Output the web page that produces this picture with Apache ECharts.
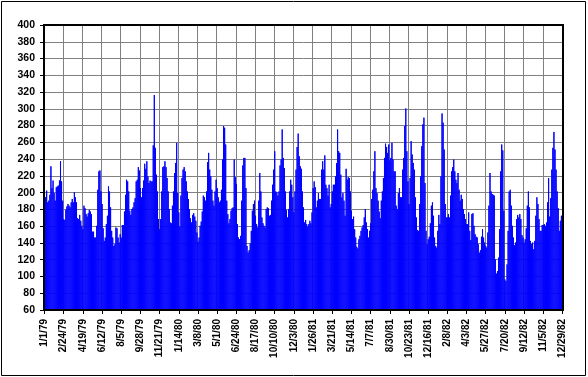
<!DOCTYPE html>
<html><head><meta charset="utf-8">
<script src="https://cdn.jsdelivr.net/npm/echarts@6/dist/echarts.min.js"></script>
<style>html,body{margin:0;padding:0;background:#fff}#c{width:588px;height:377px}</style>
</head><body><div id="c"></div>
<script>
// x axis tick labels (every 54 days)
const tickLabels = ['1/1/79','2/24/79','4/19/79','6/12/79','8/5/79','9/28/79','11/21/79','1/14/80','3/8/80','5/1/80','6/24/80','8/17/80','10/10/80','12/3/80','1/26/81','3/21/81','5/14/81','7/7/81','8/30/81','10/23/81','12/16/81','2/8/82','4/3/82','5/27/82','7/20/82','9/12/82','11/5/82','12/29/82'];
const yTicks = {min: 60, max: 400, step: 20};
// values, one per 3-day step starting 1/1/79
const values1979 = [202,195,203,189,191,198,232,206,215,200,
191,207,208,209,215,238,214,191,169,168,
180,184,187,185,183,189,193,189,201,195,
189,170,169,174,167,161,157,185,182,175,
172,176,180,178,175,154,154,147,147,161,
204,226,227,202,187,158,143,147,163,173,
208,202,183,155,147,137,139,159,158,147,
141,151,147,162,162,178,198,216,214,202,
179,174,181,183,189,194,214,216,231,227,
206,195,206,215,235,229,238,220,212,215,
214,214,257,317,254,222,202,169,157,169,
202,231,232,238,231,218,202,181,165,164,185,202];
const values1980 = [224,236,260,200,177,160,197,218,
228,231,226,214,202,193,181,170,165,174,
176,172,167,153,142,147,161,166,178,197,
195,191,202,237,248,228,220,204,191,185,202,216,
206,195,189,191,204,240,280,278,258,191,
175,164,169,179,182,183,240,219,211,163,
147,145,149,191,233,242,242,206,137,129,
132,140,155,179,187,191,173,163,159,191,
224,202,171,164,161,159,181,183,182,173,
174,191,210,228,250,202,201,197,202,233,
240,276,242,230,202,180,171,181,202,216,
210,195,177,202,228,255,271,244,232,229,
202,183];
const values1981 = [165,
168,163,160,163,167,164,177,206,214,207,
183,191,200,193,193,228,238,228,245,210,
206,197,210,183,187,202,210,210,220,236,
276,250,248,222,195,200,191,173,229,216,
219,218,202,179,169,172,157,147,136,134,
145,149,155,159,162,171,181,165,157,147,
155,164,193,204,226,250,206,200,191,178,
170,191,202,218,242,259,255,248,258,239,
242,260,240,
226,226,185,181,200,206,195,195,228,242,
280,301,250,214,187,218,262,246,236,228,
195,171,156,155,187,220,256,282,290,212,
155,139,145,148,164,185,189,173];
const values1982 = [147,137,
135,155,174,163,220,295,284,252,187,171,
171,175,171,197,226,231,240,226,216,212,
224,204,191,198,193,181,175,169,163,163,
177,155,144,175,176,161,151,148,147,139,
129,132,
148,157,147,141,137,135,153,185,224,202,
199,198,197,121,104,107,123,157,226,258,
251,179,97,95,115,155,202,204,185,161,
147,138,141,169,174,171,175,169,150,147,
141,145,158,185,202,183,143,139,141,133,
143,173,195,187,169,155,155,162,162,163,
161,165,189,218,172,194,228,254,273,252,
228,202,182,155,167,173,173];

const values = values1979.concat(values1980, values1981, values1982);
const stepDays = 3;
const categories = values.map((v, i) => {
  const d = new Date(Date.UTC(1979, 0, 1 + stepDays * i));
  return (d.getUTCMonth() + 1) + '/' + d.getUTCDate() + '/' + String(d.getUTCFullYear()).slice(2);
});
const labelEvery = 18;

const chart = echarts.init(document.getElementById('c'), null, {renderer: 'canvas'});
const font = '"Liberation Sans", Arial, sans-serif';
const G = {left: 44, top: 25, width: 519, height: 285};
chart.setOption({
  animation: false,
  backgroundColor: '#fff',
  grid: {left: G.left, top: G.top, width: G.width, height: G.height, show: true, backgroundColor: '#fff', borderWidth: 0},
  xAxis: {
    type: 'category', data: categories, boundaryGap: true,
    axisLine: {show: true, lineStyle: {color: '#000', width: 1}},
    axisTick: {show: true, interval: labelEvery - 1, alignWithLabel: true, length: 4, lineStyle: {color: '#000'}},
    axisLabel: {interval: labelEvery - 1, rotate: 90, margin: 9, fontSize: 10, fontWeight: 'bold', fontFamily: font, color: '#000',
      formatter: (val, idx) => tickLabels[Math.round(idx / labelEvery)] || val},
    splitLine: {show: true, interval: labelEvery - 1, lineStyle: {color: '#808080', width: 1}}
  },
  yAxis: {
    type: 'value', min: yTicks.min, max: yTicks.max, interval: yTicks.step,
    axisLine: {show: true, lineStyle: {color: '#000', width: 2}},
    axisTick: {show: true, length: 4, lineStyle: {color: '#000'}},
    axisLabel: {fontSize: 10.5, fontWeight: 'bold', fontFamily: font, color: '#000', margin: 9},
    splitLine: {show: true, lineStyle: {color: '#808080', width: 1}}
  },
  series: [{
    type: 'bar', data: values, barCategoryGap: '0%', barGap: '0%',
    itemStyle: {color: '#0000ff', borderColor: '#0000ff', borderWidth: 1}
  }],
  graphic: [
    {type: 'rect', z: 100, shape: {x: G.left, y: G.top, width: G.width, height: G.height}, style: {fill: 'none', stroke: '#000', lineWidth: 2}},
    {type: 'rect', z: 100, shape: {x: 1.5, y: 1.5, width: 584, height: 374}, style: {fill: 'none', stroke: '#000', lineWidth: 1}}
  ]
});
</script></body></html>
